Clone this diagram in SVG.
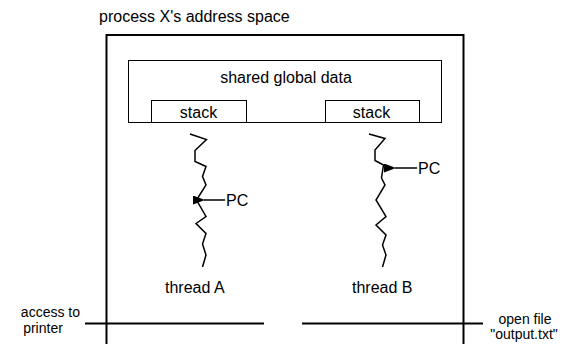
<svg xmlns="http://www.w3.org/2000/svg" width="564" height="344" viewBox="0 0 564 344">
<defs>
<style>
text{font-family:"Liberation Sans",Arial,sans-serif;font-size:16px;fill:#000}
text.side{font-size:14px}
.box{fill:#fff;stroke:#000;stroke-width:1}
.thick{fill:none;stroke:#000;stroke-width:2}
.zig{fill:none;stroke:#000;stroke-width:1.5;stroke-linejoin:miter}
.arr{stroke:#000;stroke-width:1.5}
</style>
<marker id="ah" markerWidth="12" markerHeight="9" refX="1" refY="4.5" orient="auto" markerUnits="userSpaceOnUse">
<path d="M0,4.5 L12,0 L12,9 Z" fill="#000"/>
</marker>
</defs>
<rect width="564" height="344" fill="#fff"/>
<g id="address-space">
<text x="99" y="22">process X's address space</text>
<path class="thick" d="M106.5,346 V35 H463.5 V346"/>
</g>
<g id="shared-global-data">
<rect class="box" x="128.5" y="60.5" width="313" height="62"/>
<text x="286" y="83" text-anchor="middle">shared global data</text>
</g>
<g id="stack-a">
<rect class="box" x="151.5" y="100.5" width="95" height="22"/>
<text x="198.5" y="118" text-anchor="middle">stack</text>
</g>
<g id="stack-b">
<rect class="box" x="325.5" y="100.5" width="94" height="22"/>
<text x="371.5" y="118" text-anchor="middle">stack</text>
</g>
<g id="thread-a">
<polyline class="zig" points="190,134 206.5,139.5 195,150.5 195,161.5 206,166.5 202.5,176.5 206,185 196.5,200 206,216.5 196,223.5 206,233.5 202.5,244 206,255 202.5,267"/>
<text x="165" y="293">thread A</text>
</g>
<g id="thread-b">
<polyline class="zig" points="369,134 385,138.5 375,150 375,160.5 383.5,165 381.5,178 385,185 376,200 386,216.5 376,225 386,235 382.5,245 386,255 382.5,267"/>
<text x="352" y="293">thread B</text>
</g>
<g id="pc-a">
<text x="226" y="206">PC</text>
</g>
<g id="pc-b">
<text x="418" y="174">PC</text>
</g>
<g id="printer">
<text class="side" x="80" y="317" text-anchor="end">access to</text>
<text class="side" x="43" y="333" text-anchor="middle">printer</text>
</g>
<g id="output-file">
<text class="side" x="525" y="324" text-anchor="middle">open file</text>
<text class="side" x="524" y="339" text-anchor="middle">"output.txt"</text>
</g>
<g id="connectors">
<line class="arr" x1="225" y1="200" x2="204" y2="200" marker-end="url(#ah)"/>
<line class="arr" x1="417" y1="168" x2="395" y2="168" marker-end="url(#ah)"/>
<line class="thick" x1="85" y1="323.5" x2="264" y2="323.5"/>
<line class="thick" x1="302" y1="323.5" x2="483" y2="323.5"/>
</g>
</svg>
